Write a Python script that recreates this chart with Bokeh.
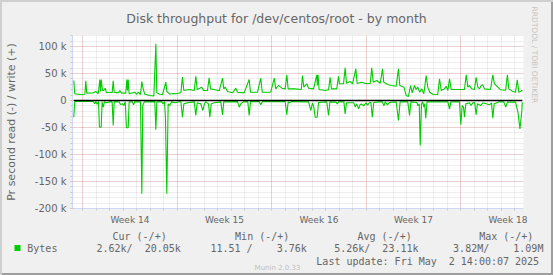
from bokeh.plotting import figure
from bokeh.layouts import column
from bokeh.models import Range1d, FixedTicker, Title
from bokeh.core.properties import value
from bokeh.embed import file_html
from bokeh.resources import INLINE

# ---- data (x in days from Monday of week 14, values in thousands of bytes/s) ----
write_pts = [(-0.66,37.0),(-0.59,12.4),(-0.21,11.1),(0.16,11.7),(0.23,36.4),(0.30,13.6),(0.78,14.2),(0.97,16.7),
 (1.15,12.4),(1.27,38.9),(1.32,16.7),(1.37,38.9),(1.47,18.5),(1.56,18.5),(1.67,22.8),(1.76,14.2),(2.01,15.4),
 (2.18,14.2),(2.26,36.4),(2.33,15.4),(2.63,14.2),(2.75,18.5),(2.87,13.6),(3.19,13.6),(3.27,38.9),(3.32,18.5),
 (3.37,38.9),(3.44,12.4),(3.86,15.4),(3.99,11.1),(4.11,15.4),(4.28,11.1),(4.38,35.2),(4.48,21.6),(4.60,11.7),
 (4.97,9.3),(5.27,8.6),(5.42,105.0),(5.49,14.2),(5.71,11.7),(5.91,11.1),(6.16,34.0),(6.23,16.7),(6.45,11.7),
 (6.70,12.9),(6.90,12.4),(7.27,14.2),(7.39,43.2),(7.49,18.5),(7.89,20.4),(8.26,18.5),(8.38,45.0),(8.48,20.4),
 (8.82,24.7),(8.95,18.5),(9.24,18.5),(9.37,42.0),(9.47,21.6),(9.74,20.4),(10.11,17.9),(10.36,41.4),(10.45,21.6),
 (10.56,24.7),(10.73,16.7),(11.10,14.2),(11.34,22.8),(11.47,15.4),(11.96,14.2),(12.33,39.0),(12.43,15.4),
 (12.95,15.4),(13.19,41.4),(13.30,15.4),(13.93,15.4),(14.19,41.4),(14.30,21.6),(14.50,27.8),(14.67,24.7),
 (14.75,22.8),(15.00,21.6),(15.12,47.6),(15.22,21.6),(15.74,21.6),(16.19,20.4),(16.28,46.3),(16.38,24.7),
 (16.60,30.9),(16.73,22.8),(17.10,21.6),(17.34,47.6),(17.38,27.8),(17.43,47.6),(17.51,20.4),(17.96,18.5),
 (18.21,19.8),(18.33,43.0),(18.43,21.6),(18.82,21.6),(18.95,45.0),(19.02,30.9),(19.32,30.9),(19.44,60.5),
 (19.54,32.0),(19.81,35.2),(19.99,30.9),(20.23,58.6),(20.33,31.5),(20.67,33.9),(20.93,31.5),(21.30,31.5),
 (21.41,60.5),(21.52,33.9),(21.79,37.0),(22.04,32.0),(22.21,58.6),(22.30,33.9),(22.65,29.0),(22.85,27.8),
 (23.22,26.5),(23.39,58.6),(23.49,27.8),(23.79,24.7),(23.96,9.3),(24.13,7.4),(24.28,27.8),(24.41,14.2),
 (24.58,27.8),(24.70,20.4),(24.82,24.7),(24.95,15.4),(25.12,21.6),(25.27,12.4),(25.44,46.3),(25.56,24.7),
 (25.71,15.4),(25.93,11.7),(26.30,11.1),(26.43,40.0),(26.56,18.5),(26.80,21.6),(26.93,26.5),(27.05,18.5),
 (27.17,40.0),(27.30,20.4),(28.28,20.4),(28.41,47.6),(28.53,24.7),(28.65,27.8),(28.82,21.6),(29.02,20.4),
 (29.14,43.0),(29.27,24.7),(29.39,21.6),(29.52,27.8),(29.64,29.0),(29.76,21.6),(30.21,20.4),(30.38,47.6),
 (30.50,30.9),(30.75,24.7),(30.96,19.8),(31.33,19.1),(31.46,47.6),(31.56,21.6),(31.82,17.3),(32.06,15.4),
 (32.19,38.3),(32.31,15.1),(32.56,19.1)]

read_pts = [(-0.66,-30.9),(-0.59,-1.9),(0.78,-1.9),(0.90,-6.2),(0.97,-2.0),(1.07,-6.8),(1.17,-2.0),(1.24,-49.4),
 (1.37,-49.4),(1.44,-2.5),(1.52,-12.3),(1.61,-2.5),(1.76,-4.3),(2.01,-2.5),(2.18,-2.0),(2.26,-46.3),(2.33,-2.5),
 (2.70,-2.5),(2.80,-7.4),(2.95,-6.2),(3.04,-9.3),(3.15,-2.5),(3.24,-50.6),(3.37,-50.6),(3.44,-2.5),(3.69,-2.5),
 (3.76,-8.0),(3.86,-2.5),(4.28,-2.5),(4.38,-172.8),(4.45,-9.3),(4.56,-2.5),(5.34,-2.0),(5.42,-54.3),(5.49,-2.5),
 (5.86,-2.5),(5.96,-6.2),(6.06,-2.5),(6.13,-30.9),(6.23,-172.8),(6.33,-6.2),(6.45,-9.3),(6.58,-2.5),(6.82,-4.3),
 (7.27,-1.9),(7.39,-30.9),(7.49,-6.2),(7.76,-4.3),(8.26,-2.5),(8.38,-27.8),(8.48,-4.3),(8.75,-6.2),(8.90,-18.5),
 (9.02,-6.2),(9.12,-2.5),(9.32,-6.2),(9.42,-30.9),(9.52,-6.2),(9.74,-4.3),(10.23,-2.5),(10.36,-26.5),(10.45,-2.5),
 (11.47,-2.0),(11.59,-12.3),(11.71,-6.2),(11.89,-2.5),(12.23,-2.0),(12.33,-27.8),(12.43,-2.0),(13.07,-2.0),
 (13.19,-8.0),(13.32,-2.0),(14.80,-1.9),(15.00,-2.0),(15.12,-26.5),(15.22,-2.5),(15.30,-4.3),(15.49,-2.0),
 (16.73,-2.5),(16.90,-18.5),(17.02,-4.3),(17.12,-12.3),(17.22,-30.9),(17.37,-30.9),(17.47,-3.7),(18.08,-2.5),
 (18.21,-27.8),(18.31,-2.5),(18.76,-3.1),(18.86,-6.2),(18.96,-2.5),(19.35,-2.5),(19.44,-24.7),(19.54,-4.3),
 (20.08,-4.3),(20.19,-12.3),(20.29,-6.2),(20.44,-15.4),(20.54,-8.0),(20.64,-6.2),(20.81,-9.9),(20.99,-4.3),
 (21.10,-8.6),(21.25,-3.7),(21.35,-3.7),(21.45,-30.9),(21.56,-3.7),(21.96,-2.5),(22.21,-2.5),(22.31,-9.9),
 (22.41,-2.5),(22.58,-8.0),(22.71,-3.7),(23.22,-2.5),(23.39,-37.0),(23.51,-2.5),(24.08,-2.5),(24.21,-27.8),
 (24.31,-2.5),(24.76,-3.7),(24.82,-9.3),(24.93,-6.2),(25.00,-83.3),(25.10,-6.2),(25.19,-2.5),(25.27,-12.3),
 (25.34,-6.2),(25.41,-32.7),(25.51,-2.5),(27.05,-2.5),(27.17,-16.0),(27.27,-2.5),(27.91,-2.5),(28.01,-45.0),
 (28.11,-9.3),(28.21,-12.3),(28.28,-30.9),(28.38,-6.2),(28.65,-4.3),(28.77,-9.3),(28.90,-4.3),(29.04,-3.7),
 (29.14,-26.5),(29.24,-6.2),(29.47,-9.3),(29.64,-4.3),(29.89,-6.2),(30.13,-8.0),(30.28,-4.3),(30.38,-32.7),
 (30.48,-6.2),(30.87,-2.5),(31.19,-2.5),(31.34,-12.3),(31.46,-3.0),(32.06,-3.0),(32.24,-21.6),(32.39,-52.5),
 (32.53,-18.5),(32.56,-3.0)]

days_w = [d for d, v in write_pts]
write_k = [v for d, v in write_pts]
days_r = [d for d, v in read_pts]
read_k = [v for d, v in read_pts]

week_numbers = [14, 15, 16, 17, 18]
week_starts = [0, 7, 14, 21, 28]
y_ticks = [-200, -150, -100, -50, 0, 50, 100]
y_labels = ["-200 k", "-150 k", "-100 k", "-50 k", "0", "50 k", "100 k"]

title = "Disk throughput for /dev/centos/root - by month"
y_title = "Pr second read (-) / write (+)"
legend_name = "Bytes"
legend_heads = ["Cur (-/+)", "Min (-/+)", "Avg (-/+)", "Max (-/+)"]
legend_vals = ["2.62k/  20.05k", "11.51 /    3.76k", "5.26k/  23.11k", "3.82M/    1.09M"]
last_update = "Last update: Fri May  2 14:00:07 2025"
watermark = "Munin 2.0.33"
side_note = "RRDTOOL / TOBI OETIKER"


def keep_spaces(s):
    return s.replace(" ", "\u00a0")


# ---- layout constants (canvas pixels) ----
W, H = 553, 275
FL, FR, FT, FB = 72, 523, 35, 208
TOP_H = 228
PX_PER_DAY = 13.5
DAY0_PX = 82.2
PX_PER_K = 27 / 50.0
ZERO_PX = 100

x0 = (FL - DAY0_PX) / PX_PER_DAY
x1 = (FR - DAY0_PX) / PX_PER_DAY
y1 = (ZERO_PX - FT) / PX_PER_K
y0 = -(FB - ZERO_PX) / PX_PER_K

FONT = "DejaVu Sans"
MONO = "DejaVu Sans Mono"
TXT = "#666666"
AXIS = "#CFD6F8"
GREEN = "#00CC00"
BACK = "#F0F0F0"
SHADE_A = "#CFCFCF"
SHADE_B = "#9E9E9E"

p = figure(width=W, height=TOP_H, output_backend="svg", toolbar_location=None,
           x_range=Range1d(x0, x1), y_range=Range1d(y0, y1),
           min_border_left=FL, min_border_right=W - FR, min_border_top=FT, min_border_bottom=TOP_H - FB)
p.background_fill_color = "white"
p.border_fill_color = BACK
p.border_fill_alpha = 0.0
p.outline_line_color = None
p.styles = {"background-color": BACK,
            "box-shadow": "inset 2px 2px 0 0 %s, inset -2px 0 0 0 %s" % (SHADE_A, SHADE_B)}

# built-in title left empty; a spacer (drawn in the background colour) sits right above
# the frame and the real title is stacked above it, near the top edge of the image
p.title.text = ""
p.add_layout(Title(text=".", text_font=FONT, text_font_size="10px", text_color=BACK, standoff=0), "above")
p.add_layout(Title(text=title, text_font=FONT, text_font_size="12.5px", text_font_style="normal",
                   text_color=TXT, align="left", offset=53.8, standoff=0), "above")

p.add_layout(Title(text=side_note, text_font=FONT, text_font_size="7.5px", text_font_style="normal",
                   text_color="#C4C4C4", align="left", offset=-29, standoff=12), "right")

# grids
p.xgrid.ticker = FixedTicker(ticks=week_starts, minor_ticks=list(range(0, 33)))
p.ygrid.ticker = FixedTicker(ticks=y_ticks, minor_ticks=list(range(-200, 121, 10)))
for g in (p.xgrid, p.ygrid):
    g.grid_line_color = "#E04040"
    g.grid_line_alpha = 0.35
    g.grid_line_dash = "1 1"
    g.minor_grid_line_color = "#8F8F8F"
    g.minor_grid_line_alpha = 0.3
    g.minor_grid_line_dash = "1 1"

# x axis
xa = p.xaxis[0]
xa.ticker = FixedTicker(ticks=[w + 3.5 for w in week_starts], minor_ticks=list(range(0, 33)))
xa.major_label_overrides = {w + 3.5: "Week %d" % n for w, n in zip(week_starts, week_numbers)}
xa.major_tick_line_color = None
xa.minor_tick_out = 2
xa.minor_tick_in = 0
xa.minor_tick_line_color = "#C8C8C8"
xa.axis_line_color = AXIS
xa.major_label_text_font = FONT
xa.major_label_text_font_size = "9px"
xa.major_label_text_color = TXT
xa.major_label_standoff = 0

# y axis
ya = p.yaxis[0]
ya.ticker = FixedTicker(ticks=y_ticks, minor_ticks=list(range(-200, 121, 10)))
ya.major_label_overrides = {t: l for t, l in zip(y_ticks, y_labels)}
ya.major_tick_out = 2
ya.major_tick_in = 0
ya.major_tick_line_color = "#EAA8A8"
ya.minor_tick_out = 2
ya.minor_tick_in = 0
ya.minor_tick_line_color = "#C8C8C8"
ya.axis_line_color = AXIS
ya.major_label_text_font = FONT
ya.major_label_text_font_size = "10px"
ya.major_label_text_color = TXT
ya.major_label_standoff = 4
ya.axis_label = y_title
ya.axis_label_text_font = FONT
ya.axis_label_text_font_size = "11px"
ya.axis_label_text_font_style = "normal"
ya.axis_label_text_color = TXT
ya.axis_label_standoff = 14

# data
p.line(days_w, write_k, line_color=GREEN, line_width=1.1)
p.line(days_r, read_k, line_color=GREEN, line_width=1.1)
p.line([days_w[0], days_w[-1]], [0, 0], line_color="black", line_width=1.3)

# ---- legend strip (pixel coordinates, y downward) ----
q = figure(width=W, height=H - TOP_H, output_backend="svg", toolbar_location=None,
           x_range=Range1d(0, W), y_range=Range1d(H, TOP_H),
           x_axis_location=None, y_axis_location=None, min_border=0)
q.background_fill_color = BACK
q.background_fill_alpha = 0.0
q.border_fill_color = BACK
q.border_fill_alpha = 0.0
q.outline_line_color = None
q.xgrid.visible = False
q.ygrid.visible = False
q.styles = {"background-color": BACK,
            "box-shadow": "inset 2px 0 0 0 %s, inset -2px -2px 0 0 %s" % (SHADE_A, SHADE_B)}
for fig in (p, q):
    try:
        fig.frame_align = False
    except AttributeError:
        pass

heads_x = [112, 234.6, 357, 478.7]
vals_x = [96, 210, 333.7, 452.6]
q.text(x=heads_x, y=[235.5] * 4, text=[keep_spaces(s) for s in legend_heads], text_font=value(MONO),
       text_font_size="10px", text_color=TXT, text_baseline="middle", text_align="left")
q.text(x=vals_x + [26.8], y=[247.6] * 5, text=[keep_spaces(s) for s in legend_vals + [legend_name]],
       text_font=value(MONO), text_font_size="10px", text_color=TXT, text_baseline="middle", text_align="left")
q.text(x=[538.6], y=[260.7], text=[keep_spaces(last_update)], text_font=value(MONO), text_font_size="10px",
       text_color=TXT, text_baseline="middle", text_align="right")
q.text(x=[277], y=[267.7], text=[watermark], text_font=value(FONT), text_font_size="7px",
       text_color="#C0C0C0", text_baseline="middle", text_align="center")
q.quad(left=[14], right=[20], top=[244.5], bottom=[250.5], fill_color=GREEN, line_color=None)

layout = column(p, q, spacing=0)
open("out.html", "w").write(file_html(layout, INLINE))
